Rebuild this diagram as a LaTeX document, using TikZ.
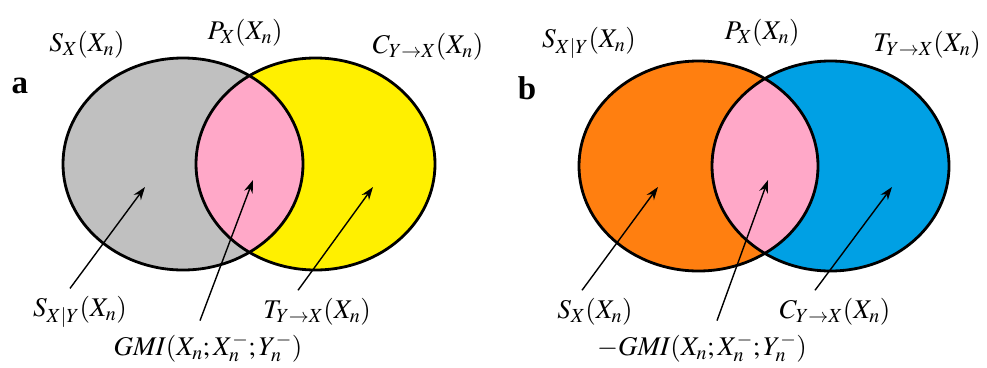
\documentclass[tikz,border=0pt]{standalone}
\usepackage{mathptmx}
\usepackage{fontspec}
\newfontfamily\panelfont{Liberation Serif}
\usetikzlibrary{arrows.meta}
\definecolor{setGray}{RGB}{192, 192, 192}
\definecolor{setPink}{RGB}{255, 168, 200}
\definecolor{setYellow}{RGB}{255, 240, 0}
\definecolor{setOrange}{RGB}{255, 127, 16}
\definecolor{setBlue}{RGB}{0, 160, 228}

\tikzset{
  setline/.style={line width=2.8pt, black},
  setlabel/.style={inner sep=0pt},
  pointer/.style={->, line width=1.4pt},
  panel/.style={inner sep=0pt, font=\fontsize{33}{36}\selectfont\panelfont\bfseries}
}

\begin{document}
\begin{tikzpicture}[x=1pt, y=-1pt, >={Stealth[length=13pt, width=9pt]},
    font=\fontsize{27}{32}\selectfont]
  \useasboundingbox (0,0) rectangle (987,367);

  % panel a
  \fill[setGray] (183,164) ellipse [x radius=120pt, y radius=106pt];
  \fill[setYellow] (315.5,164) ellipse [x radius=119.5pt, y radius=106pt];
  \begin{scope}
    \clip (183,164) ellipse [x radius=120pt, y radius=106pt];
    \fill[setPink] (315.5,164) ellipse [x radius=119.5pt, y radius=106pt];
  \end{scope}
  \draw[setline] (183,164) ellipse [x radius=120pt, y radius=106pt];
  \draw[setline] (315.5,164) ellipse [x radius=119.5pt, y radius=106pt];

  \node[setlabel] (sxa) at (87,45) {$S_X(X_n)$};
  \node[setlabel] (pxa) at (245,33) {$P_X(X_n)$};
  \node[setlabel] (cyxa) at (428,47) {$C_{Y\to X}(X_n)$};
  \node[panel] (la) at (20,86) {a};
  \node[setlabel] (sxya) at (80,312) {$S_{X|Y}(X_n)$};
  \node[setlabel] (tyxa) at (317,312) {$T_{Y\to X}(X_n)$};
  \node[setlabel] (gmia) at (208,348) {$\mathit{GMI}(X_n;X_n^{-};Y_n^{-})$};

  \coordinate (ta1) at (145,187);
  \coordinate (ta2) at (253,180);
  \coordinate (ta3) at (373,187);
  \draw[pointer] ([shift={(-10,-8)}]sxya.north) -- (ta1);
  \draw[pointer] ([shift={(-8,-13)}]gmia.north) -- (ta2);
  \draw[pointer] ([shift={(-19,-8)}]tyxa.north) -- (ta3);

  % panel b
  \fill[setOrange] (698.5,166) ellipse [x radius=119.5pt, y radius=105pt];
  \fill[setBlue] (830.5,166) ellipse [x radius=118.5pt, y radius=105pt];
  \begin{scope}
    \clip (698.5,166) ellipse [x radius=119.5pt, y radius=105pt];
    \fill[setPink] (830.5,166) ellipse [x radius=118.5pt, y radius=105pt];
  \end{scope}
  \draw[setline] (698.5,166) ellipse [x radius=119.5pt, y radius=105pt];
  \draw[setline] (830.5,166) ellipse [x radius=118.5pt, y radius=105pt];

  \node[setlabel] (sxyb) at (589,43) {$S_{X|Y}(X_n)$};
  \node[setlabel] (pxb) at (762,33) {$P_X(X_n)$};
  \node[setlabel] (tyxb) at (927,45) {$T_{Y\to X}(X_n)$};
  \node[panel] (lb) at (527,88) {b};
  \node[setlabel] (sxb) at (595,312) {$S_X(X_n)$};
  \node[setlabel] (cyxb) at (835,312) {$C_{Y\to X}(X_n)$};
  \node[setlabel] (gmib) at (702,348) {$-\mathit{GMI}(X_n;X_n^{-};Y_n^{-})$};

  \coordinate (tb1) at (658,187);
  \coordinate (tb2) at (768,180);
  \coordinate (tb3) at (892,187);
  \draw[pointer] ([shift={(-13,-8)}]sxb.north) -- (tb1);
  \draw[pointer] ([shift={(15,-13)}]gmib.north) -- (tb2);
  \draw[pointer] ([shift={(-20,-8)}]cyxb.north) -- (tb3);
\end{tikzpicture}
\end{document}
